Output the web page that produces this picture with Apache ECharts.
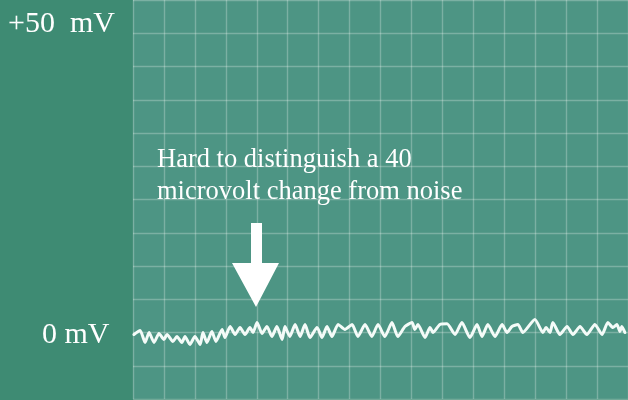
<!DOCTYPE html>
<html>
<head>
<meta charset="utf-8">
<script src="https://cdn.jsdelivr.net/npm/echarts@6/dist/echarts.min.js"></script>
<style>
  html, body { margin: 0; padding: 0; }
  #chart { width: 628px; height: 400px; }
</style>
</head>
<body>
<div id="chart"></div>
<script>
// time in tenths of a division (16 divisions across the screen)
const times = [
  0.3, 2.3, 3.9, 5.2, 6.8, 8.4, 10.0, 11.0, 12.9, 14.2, 15.8, 16.8, 18.4, 20.0,
  21.7, 22.6, 23.9, 25.5, 26.8, 28.8, 29.7, 31.4, 33.0, 34.6, 36.2, 37.8, 38.8,
  40.1, 41.7, 43.3, 44.9, 46.5, 48.2, 49.1, 50.7, 52.4, 54.0, 55.6, 57.2, 59.5,
  61.1, 62.7, 64.3, 66.3, 68.5, 70.8, 72.7, 75.0, 77.2, 79.2, 81.4, 83.7, 85.6,
  87.9, 90.2, 91.1, 92.1, 94.4, 96.0, 97.0, 99.2, 101.5, 104.1, 106.3, 108.9,
  111.2, 112.8, 114.7, 117.0, 119.3, 120.9, 122.5, 124.4, 126.0, 129.9, 132.5,
  133.5, 134.8, 135.7, 138.0, 140.3, 142.2, 144.5, 146.7, 149.3, 151.6, 153.5,
  155.1, 156.4, 157.4, 158.0, 159.0
];
// trace level in mV
const millivolts = [
  -0.3, 0.3, -1.5, 0.0, -1.5, -0.15, -1.05, -0.3, -1.35, -0.6, -1.5, -0.6, -1.8, -0.6,
  -1.8, 0.0, -1.5, 0.15, -1.35, 0.45, -0.75, 0.9, -0.3, 0.75, -0.3, 0.75, 0.0,
  1.5, -0.15, 0.9, -0.6, 0.9, -1.05, 0.9, -0.6, 1.2, -0.6, 1.2, -0.75, 0.75,
  -0.75, 0.9, -0.6, 1.2, 0.45, 1.2, -0.6, 1.2, -0.6, 1.2, -0.6, 1.5, -0.6,
  0.9, 1.5, 0.45, 1.2, -0.75, 0.75, 0.0, 1.2, 1.3, -0.3, 1.5, -0.75,
  1.2, -0.6, 1.2, -0.6, 1.2, 0.0, 0.9, 1.2, 0.0, 1.95, 0.0,
  0.75, 0.0, 1.5, -0.3, 0.9, -0.3, 0.9, -0.3, 1.2, -0.3, 1.5,
  0.75, 1.2, 0.15, 0.9, 0.0
];
const yTop = 50;
const yBottom = -10;
const topLabel = '+50  mV';
const zeroLabel = '0 mV';
const noteLines = ['Hard to distinguish a 40', 'microvolt change from noise'];

const chart = echarts.init(document.getElementById('chart'));
const serif = '"Liberation Serif", "DejaVu Serif", serif';
const gridLine = { color: 'rgba(255,255,255,0.26)', width: 1.4 };

chart.setOption({
  backgroundColor: '#3e8b73',
  animation: false,
  grid: {
    left: 133,
    right: 0,
    top: -1,
    bottom: 1,
    show: true,
    borderWidth: 0,
    backgroundColor: '#4d9584'
  },
  xAxis: {
    type: 'value',
    min: 0,
    max: 160,
    interval: 10,
    axisLine: { show: false },
    axisTick: { show: false },
    axisLabel: { show: false },
    splitLine: { show: true, lineStyle: gridLine }
  },
  yAxis: {
    type: 'value',
    min: yBottom,
    max: yTop,
    interval: 5,
    axisLine: { show: false },
    axisTick: { show: false },
    axisLabel: { show: false },
    splitLine: { show: true, lineStyle: gridLine }
  },
  series: [{
    type: 'line',
    data: times.map((t, i) => [t, millivolts[i]]),
    showSymbol: false,
    smooth: 0.2,
    lineStyle: { color: '#f4fbf8', width: 3, cap: 'round', join: 'round' }
  }],
  graphic: [
    {
      type: 'text', left: 8, top: 9,
      style: { text: topLabel, fill: '#ffffff', font: '30px ' + serif }
    },
    {
      type: 'text', left: 42, top: 320,
      style: { text: zeroLabel, fill: '#ffffff', font: '30px ' + serif }
    },
    {
      type: 'text', left: 157, top: 144,
      style: {
        text: noteLines.join('\n'), fill: '#ffffff',
        font: '26.5px ' + serif, lineHeight: 32
      }
    },
    {
      type: 'polygon',
      shape: { points: [[251, 223], [262, 223], [262, 263], [279, 263], [256, 307], [232, 263], [251, 263]] },
      style: { fill: '#ffffff' }
    }
  ]
});
</script>
</body>
</html>
